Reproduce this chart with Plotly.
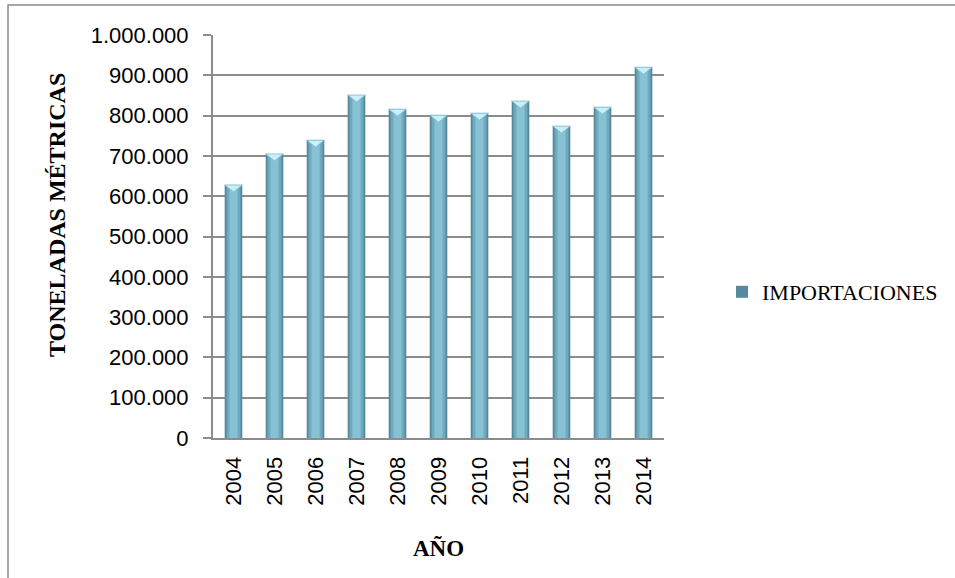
import plotly.graph_objects as go

# Importaciones anuales (toneladas métricas)
years = ["2004", "2005", "2006", "2007", "2008", "2009", "2010", "2011", "2012", "2013", "2014"]
imports_t = [628000, 705000, 739000, 851000, 816000, 801000, 806000, 836000, 774000, 821000, 920000]
series_name = "IMPORTACIONES"
y_ticks = [0, 100000, 200000, 300000, 400000, 500000, 600000, 700000, 800000, 900000, 1000000]
y_title = "TONELADAS MÉTRICAS"
x_title = "AÑO"

GRID = "#8c8c8c"
SANS = "Liberation Sans, Arial, sans-serif"
SERIF = "Liberation Serif, Times New Roman, serif"

W, H = 955, 578
M_L, M_R, M_T, M_B = 213, 291, 35, 140
plot_w = W - M_L - M_R
plot_h = H - M_T - M_B

# numeric positions for the year categories
xpos = list(range(len(years)))

fig = go.Figure()

# layered bars give the rounded, shaded column look
bar_layers = [
    (0.43, "#55899b", True),
    (0.34, "#6fa9bd", False),
    (0.20, "#86c1d4", False),
]
for width, color, show in bar_layers:
    fig.add_trace(go.Bar(
        x=xpos, y=imports_t, width=width,
        name=series_name, showlegend=show, legendgroup="imp",
        marker=dict(color=color, line=dict(width=0)),
        customdata=years,
        hovertemplate="%{customdata}: %{y:,}<extra></extra>",
    ))

# light pyramid cap on top of each column
bar_px = 0.43 * plot_w / len(years)
half = bar_px / 2
shapes = []
for xp, val in zip(xpos, imports_t):
    shapes.append(dict(
        type="path", xref="x", yref="y",
        xsizemode="pixel", ysizemode="pixel",
        xanchor=xp, yanchor=val,
        path=f"M{-half:.1f},0 L{half:.1f},0 L0,-7 Z",
        fillcolor="#c9eff8", line=dict(color="#7fb7c9", width=0.8), layer="above",
    ))

def px_to_paper_x(px):
    return (px - M_L) / plot_w

def px_to_paper_y(py):
    return (H - M_B - py) / plot_h

# outer chart frame
shapes.append(dict(
    type="rect", xref="paper", yref="paper",
    x0=px_to_paper_x(8), x1=px_to_paper_x(965),
    y0=px_to_paper_y(5), y1=px_to_paper_y(600),
    line=dict(color=GRID, width=1.5), fillcolor="rgba(0,0,0,0)", layer="below",
))

fig.update_layout(
    width=W, height=H,
    margin=dict(l=M_L, r=M_R, t=M_T, b=M_B),
    paper_bgcolor="white", plot_bgcolor="white",
    barmode="overlay",
    separators=",.",
    shapes=shapes,
    showlegend=True,
    legend=dict(
        x=px_to_paper_x(722), y=px_to_paper_y(292),
        xanchor="left", yanchor="middle",
        font=dict(family=SERIF, size=22, color="black"),
        bgcolor="rgba(0,0,0,0)",
    ),
    annotations=[
        dict(
            text=f"<b>{y_title}</b>", textangle=-90,
            xref="paper", yref="paper",
            x=px_to_paper_x(57), y=px_to_paper_y(215),
            xanchor="center", yanchor="middle", showarrow=False,
            font=dict(family=SERIF, size=24, color="black"),
        ),
    ],
    xaxis=dict(
        range=[-0.5, len(years) - 0.5],
        tickvals=xpos, ticktext=years,
        tickangle=-90,
        tickfont=dict(family=SANS, size=22, color="black"),
        ticklabelstandoff=8,
        showline=True, linecolor=GRID, linewidth=2,
        ticks="", showgrid=False, zeroline=False,
        title=dict(text=f"<b>{x_title}</b>", font=dict(family=SERIF, size=23, color="black"),
                   standoff=35),
        automargin=False,
    ),
    yaxis=dict(
        range=[0, 1000000],
        tickvals=y_ticks,
        tickformat=",",
        tickfont=dict(family=SANS, size=22, color="black"),
        ticklabelstandoff=10,
        showgrid=True, gridcolor=GRID, gridwidth=2,
        zeroline=False,
        showline=True, linecolor=GRID, linewidth=2,
        ticks="outside", ticklen=8, tickcolor=GRID, tickwidth=2,
        automargin=False,
    ),
)

fig.write_html("out.html")
